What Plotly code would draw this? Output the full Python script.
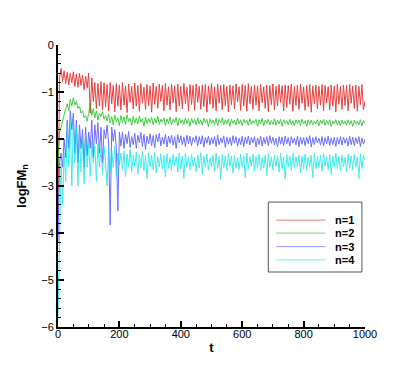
import plotly.graph_objects as go

T_STEP = 5  # sampling step in t

red = [
    -3.6, -0.7, -0.5, -0.78, -0.55, -0.82, -0.58, -0.85, -0.6, -0.8, -0.57,
    -0.88, -0.62, -0.9, -0.6, -0.86, -0.64, -0.95, -0.66, -0.92, -0.6,
    -1.45, -0.7, -1.2, -0.8, -1.35, -0.82, -1.3, -0.78, -1.38, -0.8,
    -1.32, -0.84, -1.4, -0.8, -1.25, -0.86, -1.42, -0.82, -1.3, -0.85,
    -1.38, -0.8, -1.28, -0.87, -1.44, -0.83, -1.22, -0.88, -1.36, -0.81,
    -1.3, -0.86, -1.41, -0.82, -1.24, -0.9, -1.37, -0.84, -1.29, -0.87,
    -1.43, -0.81, -1.26, -0.88, -1.35, -0.83, -1.2, -0.86, -1.4, -0.82,
    -1.28, -0.89, -1.38, -0.84, -1.23, -0.87, -1.42, -0.83, -1.3, -0.88,
    -1.36, -0.82, -1.25, -0.9, -1.4, -0.84, -1.27, -0.86, -1.39, -0.83,
    -1.22, -0.88, -1.37, -0.85, -1.31, -0.84, -1.43, -0.87, -1.26, -0.82,
    -1.35, -0.89, -1.4, -0.83, -1.24, -0.86, -1.38, -0.84, -1.29, -0.88,
    -1.42, -0.85, -1.27, -0.87, -1.36, -0.83, -1.21, -0.89, -1.39, -0.84,
    -1.3, -0.86, -1.41, -0.82, -1.25, -0.88, -1.37, -0.85, -1.28, -0.87,
    -1.4, -0.84, -1.23, -0.89, -1.35, -0.85, -1.42, -0.86, -1.27, -0.83,
    -1.38, -0.88, -1.3, -0.84, -1.22, -0.87, -1.4, -0.85, -1.33, -0.86,
    -1.26, -0.83, -1.41, -0.88, -1.29, -0.85, -1.37, -0.84, -1.24, -0.89,
    -1.39, -0.86, -1.31, -0.84, -1.43, -0.87, -1.25, -0.85, -1.36, -0.88,
    -1.28, -0.84, -1.4, -0.86, -1.23, -0.89, -1.38, -0.85, -1.3, -0.87,
    -1.42, -0.83, -1.26, -0.88, -1.37, -0.85, -1.29, -0.86, -1.4, -0.84,
    -1.24, -0.87, -1.35, -0.85, -1.41, -0.88, -1.27, -0.84, -1.38, -1.2,
]

green = [
    -2.6, -1.85, -1.75, -1.6, -1.5, -1.35, -1.25, -1.4, -1.15, -1.3, -1.12,
    -1.28, -1.2, -1.35, -1.3, -1.45, -1.4, -1.55, -1.5, -1.62, -1.45,
    -1.25, -1.5, -1.35, -1.55, -1.4, -1.6, -1.45, -1.52, -1.42, -1.58,
    -1.5, -1.62, -1.47, -1.66, -1.52, -1.7, -1.49, -1.64, -1.55, -1.72,
    -1.5, -1.65, -1.53, -1.69, -1.48, -1.63, -1.56, -1.71, -1.52, -1.66,
    -1.55, -1.68, -1.51, -1.64, -1.57, -1.73, -1.53, -1.67, -1.56, -1.65,
    -1.54, -1.7, -1.56, -1.66, -1.52, -1.69, -1.58, -1.64, -1.55, -1.71,
    -1.57, -1.67, -1.53, -1.7, -1.58, -1.65, -1.54, -1.72, -1.56, -1.66,
    -1.59, -1.69, -1.55, -1.67, -1.57, -1.73, -1.56, -1.66, -1.58, -1.7,
    -1.55, -1.68, -1.59, -1.71, -1.56, -1.65, -1.58, -1.74, -1.57, -1.67,
    -1.6, -1.69, -1.56, -1.72, -1.58, -1.66, -1.55, -1.7, -1.59, -1.68,
    -1.57, -1.73, -1.58, -1.67, -1.6, -1.7, -1.56, -1.68, -1.59, -1.72,
    -1.58, -1.66, -1.6, -1.71, -1.57, -1.69, -1.61, -1.67, -1.58, -1.73,
    -1.59, -1.68, -1.56, -1.72, -1.6, -1.67, -1.58, -1.7, -1.61, -1.69,
    -1.57, -1.71, -1.6, -1.68, -1.58, -1.73, -1.59, -1.67, -1.61, -1.7,
    -1.58, -1.69, -1.61, -1.72, -1.59, -1.67, -1.6, -1.71, -1.58, -1.68,
    -1.61, -1.73, -1.59, -1.69, -1.6, -1.7, -1.62, -1.68, -1.59, -1.72,
    -1.6, -1.67, -1.58, -1.71, -1.61, -1.69, -1.59, -1.73, -1.62, -1.68,
    -1.59, -1.7, -1.61, -1.72, -1.6, -1.68, -1.62, -1.71, -1.59, -1.69,
    -1.61, -1.73, -1.6, -1.68, -1.62, -1.7, -1.59, -1.72, -1.61, -1.67,
]

blue = [
    -4.2, -2.5, -2.3, -2.6, -2.0, -2.4, -1.6, -2.2, -1.4, -1.8, -1.45,
    -2.3, -1.6, -2.5, -1.7, -2.2, -1.8, -2.6, -1.75, -2.35, -1.85,
    -2.2, -1.6, -2.4, -1.7, -2.1, -1.65, -2.3, -1.75, -2.5, -1.8,
    -2.0, -1.7, -2.1, -3.83, -1.75, -2.05, -1.8, -2.2, -3.53, -1.85,
    -2.15, -1.85, -2.2, -1.9, -2.1, -1.84, -2.18, -1.95, -2.12, -1.88,
    -2.2, -1.92, -2.08, -1.86, -2.16, -1.9, -2.22, -1.94, -2.1, -1.89,
    -2.14, -1.93, -2.19, -1.91, -2.06, -1.88, -2.15, -1.96, -2.11, -1.9,
    -2.17, -1.94, -2.09, -1.92, -2.13, -1.95, -2.2, -1.91, -2.08, -1.93,
    -2.12, -1.96, -2.16, -1.92, -2.1, -1.94, -2.14, -1.97, -2.07, -1.93,
    -2.15, -1.95, -2.11, -1.93, -2.17, -1.96, -2.09, -1.94, -2.13, -1.97,
    -2.1, -1.95, -2.16, -1.92, -2.12, -1.98, -2.08, -1.94, -2.18, -1.96,
    -2.11, -1.97, -2.14, -1.93, -2.09, -1.95, -2.15, -1.98, -2.12, -1.94,
    -2.16, -1.96, -2.1, -1.94, -2.13, -1.97, -2.08, -1.95, -2.17, -1.98,
    -2.12, -1.94, -2.15, -1.97, -2.1, -1.95, -2.14, -1.93, -2.09, -1.96,
    -2.13, -1.98, -2.17, -1.95, -2.11, -1.96, -2.14, -1.94, -2.1, -1.97,
    -2.15, -1.95, -2.09, -1.98, -2.13, -1.94, -2.16, -1.96, -2.11, -1.97,
    -2.14, -1.96, -2.1, -1.93, -2.17, -1.97, -2.12, -1.95, -2.08, -1.98,
    -2.13, -1.95, -2.15, -1.97, -2.1, -1.94, -2.14, -1.98, -2.12, -1.96,
    -2.16, -1.97, -2.11, -1.95, -2.13, -1.96, -2.09, -1.98, -2.15, -1.94,
    -2.12, -1.96, -2.14, -1.97, -2.1, -1.95, -2.16, -1.98, -2.11, -2.0,
]

cyan = [
    -5.8, -4.2, -2.5, -3.4, -2.3, -2.9, -1.7, -2.6, -1.6, -3.0, -1.55,
    -2.5, -1.75, -3.0, -1.9, -2.7, -2.0, -2.95, -1.9, -2.6, -2.1,
    -2.8, -2.05, -2.5, -2.15, -2.9, -2.1, -2.6, -2.2, -2.75, -2.15,
    -2.5, -3.0, -2.2, -2.7, -2.25, -2.6, -2.15, -2.8, -2.3, -2.55,
    -2.3, -2.65, -2.25, -2.8, -2.32, -2.6, -2.22, -2.7, -2.35, -2.58,
    -2.28, -2.75, -2.33, -2.62, -2.26, -2.68, -2.36, -2.85, -2.3, -2.6,
    -2.34, -2.66, -2.29, -2.72, -2.38, -2.59, -2.31, -2.64, -2.35, -2.8,
    -2.32, -2.62, -2.4, -2.67, -2.33, -2.57, -2.37, -2.7, -2.3, -2.63,
    -2.36, -2.84, -2.31, -2.6, -2.38, -2.66, -2.33, -2.58, -2.39, -2.69,
    -2.34, -2.62, -2.29, -2.75, -2.37, -2.6, -2.32, -2.66, -2.4, -2.59,
    -2.35, -2.7, -2.3, -2.63, -2.38, -2.86, -2.33, -2.61, -2.36, -2.67,
    -2.31, -2.58, -2.37, -2.72, -2.34, -2.62, -2.39, -2.65, -2.32, -2.6,
    -2.36, -2.83, -2.3, -2.64, -2.38, -2.59, -2.33, -2.68, -2.37, -2.61,
    -2.32, -2.66, -2.4, -2.62, -2.35, -2.78, -2.31, -2.6, -2.38, -2.65,
    -2.34, -2.58, -2.37, -2.7, -2.3, -2.63, -2.39, -2.85, -2.33, -2.6,
    -2.36, -2.67, -2.31, -2.62, -2.38, -2.59, -2.34, -2.72, -2.37, -2.63,
    -2.32, -2.66, -2.39, -2.6, -2.35, -2.82, -2.3, -2.64, -2.37, -2.61,
    -2.34, -2.68, -2.31, -2.58, -2.38, -2.65, -2.33, -2.76, -2.36, -2.6,
    -2.3, -2.63, -2.37, -2.67, -2.34, -2.59, -2.39, -2.7, -2.32, -2.62,
    -2.36, -2.65, -2.33, -2.6, -2.38, -2.84, -2.31, -2.63, -2.35, -2.45,
]

series = [
    ("n=1", red, "#e00000"),
    ("n=2", green, "#00c000"),
    ("n=3", blue, "#3c3cff"),
    ("n=4", cyan, "#00e6e6"),
]

fig = go.Figure()
for name, vals, color in series:
    t = [i * T_STEP for i in range(len(vals))]
    fig.add_trace(
        go.Scatter(
            x=t,
            y=vals,
            mode="lines",
            name=name,
            line=dict(color=color, width=1),
            opacity=0.75,
            showlegend=False,
        )
    )

# hand-drawn legend box (plotly's own legend rows are too tall)
fig.add_shape(
    type="rect", xref="paper", yref="paper",
    x0=0.685, x1=0.99, y0=0.195, y1=0.443,
    line=dict(color="#555555", width=1), fillcolor="white", layer="above",
)
row_y = [0.379, 0.333, 0.285, 0.238]
for (name, _, color), ry in zip(series, row_y):
    fig.add_shape(
        type="line", xref="paper", yref="paper",
        x0=0.711, x1=0.871, y0=ry, y1=ry,
        line=dict(color=color, width=1), opacity=0.55, layer="above",
    )
    fig.add_annotation(
        x=0.895, y=ry, xref="paper", yref="paper",
        text=name, showarrow=False, xanchor="left", yanchor="middle",
        font=dict(family="Liberation Sans, Arial", size=11, color="black", weight="bold"),
    )

axis_font = dict(family="Liberation Sans, Arial", size=11, color="black")

# page body adds 8px offset, margins compensate for it
fig.update_layout(
    width=415,
    height=369,
    margin=dict(l=46, r=58, t=37, b=50),
    paper_bgcolor="white",
    plot_bgcolor="white",
    font=axis_font,
    showlegend=False,
)

fig.update_xaxes(
    range=[0, 1000],
    dtick=200,
    ticks="inside",
    ticklen=6,
    tickwidth=2,
    tickcolor="black",
    ticklabelstandoff=-4,
    minor=dict(dtick=50, ticks="inside", ticklen=3, tickcolor="black", tickwidth=1),
    showline=True,
    linecolor="black",
    linewidth=2,
    showgrid=False,
    zeroline=False,
    title=dict(text="t", font=dict(size=13, weight="bold"), standoff=4),
)
fig.update_yaxes(
    range=[-6, 0],
    dtick=1,
    ticks="inside",
    ticklen=6,
    tickwidth=2,
    tickcolor="black",
    minor=dict(dtick=0.2, ticks="inside", ticklen=3, tickcolor="black", tickwidth=1),
    showline=True,
    linecolor="black",
    linewidth=2,
    showgrid=False,
    zeroline=False,
    title=dict(text="logFM<sub>n</sub>", font=dict(size=13, weight="bold"), standoff=12),
)

fig.write_html("out.html")
